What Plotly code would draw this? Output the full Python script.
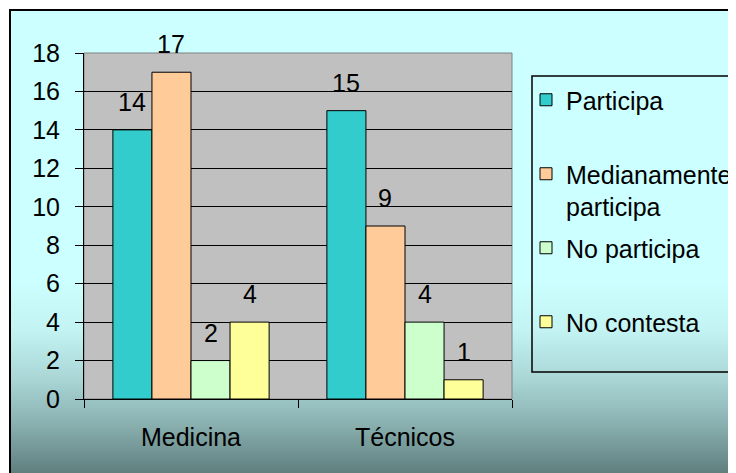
import plotly.graph_objects as go

categories = ["Medicina", "Técnicos"]
series_names = ["Participa", "Medianamente<br>participa", "No participa", "No contesta"]
participa = [14, 15]
medianamente = [17, 9]
no_participa = [2, 4]
no_contesta = [4, 1]
y_ticks = [0, 2, 4, 6, 8, 10, 12, 14, 16, 18]

series_values = [participa, medianamente, no_participa, no_contesta]
colors = ["#33CCCC", "#FFCC99", "#CCFFCC", "#FFFF99"]

W, H = 736, 473
OFF = 8  # page body margin
L, R, T, B = 76, 232, 45, 82
pw, ph = W - L - R, H - T - B
bargap = 0.27


def px(xw):
    return (xw - OFF - L) / pw


def py(yw):
    return (H - B - (yw - OFF)) / ph


FONT = "Liberation Sans, Arial, sans-serif"
FS = 25

fig = go.Figure()
for name, vals, col in zip(series_names, series_values, colors):
    label = name if "<br>" in name else name + "<br>&nbsp;"
    fig.add_trace(go.Bar(
        x=categories, y=vals, name=label,
        marker=dict(color=col, line=dict(color="black", width=1)),
        legendgroup=name,
    ))

# value labels
cat_px = pw / len(categories)
bar_px = cat_px * (1 - bargap) / len(series_values)
annotations = []
for i, vals in enumerate(series_values):
    off = (i - (len(series_values) - 1) / 2) * bar_px
    for c, v in zip(categories, vals):
        annotations.append(dict(
            x=c, y=v, xref="x", yref="y", text=str(v), showarrow=False,
            xshift=off, yshift=28, yanchor="middle",
            font=dict(family=FONT, size=FS, color="black"),
        ))


def hex2rgb(h):
    h = h.lstrip("#")
    return tuple(int(h[i:i + 2], 16) for i in (0, 2, 4))


stops = [(10, "#CCFFFF"), (280, "#CCFFFF"), (330, "#C3F3F3"), (380, "#A9D5D5"),
         (420, "#8DB4B4"), (480, "#5A7878")]
shapes = []
shapes.append(dict(type="rect", xref="paper", yref="paper", x0=px(10), x1=px(780),
                   y0=py(280), y1=py(10), fillcolor="#CCFFFF", line=dict(width=0), layer="below"))
y = 280
step = 2
while y < 490:
    yc = y + step / 2
    col = stops[-1][1]
    for (a, ca), (b, cb) in zip(stops[:-1], stops[1:]):
        if a <= yc <= b:
            t = (yc - a) / (b - a)
            r1, g1, b1 = hex2rgb(ca)
            r2, g2, b2 = hex2rgb(cb)
            col = "rgb(%d,%d,%d)" % (round(r1 + (r2 - r1) * t), round(g1 + (g2 - g1) * t), round(b1 + (b2 - b1) * t))
            break
    shapes.append(dict(type="rect", xref="paper", yref="paper", x0=px(10), x1=px(780),
                       y0=py(y + step + 0.5), y1=py(y), fillcolor=col, line=dict(width=0), layer="below"))
    y += step

# plot area
shapes.append(dict(type="rect", xref="x domain", yref="y domain", x0=0, x1=1, y0=0, y1=1,
                   fillcolor="#C0C0C0", line=dict(color="#808080", width=1), layer="below"))
# legend box
shapes.append(dict(type="rect", xref="paper", yref="paper", x0=px(532), x1=px(780),
                   y0=py(372), y1=py(76), fillcolor="rgba(0,0,0,0)", line=dict(color="black", width=1.5)))
# outer border
shapes.append(dict(type="rect", xref="paper", yref="paper", x0=px(10), x1=px(780),
                   y0=py(500), y1=py(10), fillcolor="rgba(0,0,0,0)", line=dict(color="black", width=2)))

fig.update_layout(
    width=W, height=H,
    margin=dict(l=L, r=R, t=T, b=B, autoexpand=False),
    paper_bgcolor="white", plot_bgcolor="#C0C0C0",
    barmode="group", bargap=bargap, bargroupgap=0,
    font=dict(family=FONT, size=FS, color="black"),
    showlegend=True,
    legend=dict(x=px(526), y=py(77), xanchor="left", yanchor="top",
                bgcolor="rgba(0,0,0,0)", borderwidth=0, valign="top",
                tracegroupgap=6, traceorder="grouped",
                font=dict(family=FONT, size=FS, color="black")),
    xaxis=dict(showline=True, linecolor="black", linewidth=1, ticks="outside",
               tickson="boundaries", ticklen=8, tickcolor="black", ticklabelstandoff=16,
               tickfont=dict(family=FONT, size=FS, color="black"), showgrid=False),
    yaxis=dict(range=[0, 18], tickvals=y_ticks, showline=True, linecolor="black", linewidth=1,
               ticks="outside", ticklen=8, tickcolor="black", ticklabelstandoff=10,
               showgrid=True, gridcolor="black", gridwidth=1, zeroline=False,
               tickfont=dict(family=FONT, size=FS, color="black")),
    shapes=shapes, annotations=annotations,
)

fig.write_html("out.html")
